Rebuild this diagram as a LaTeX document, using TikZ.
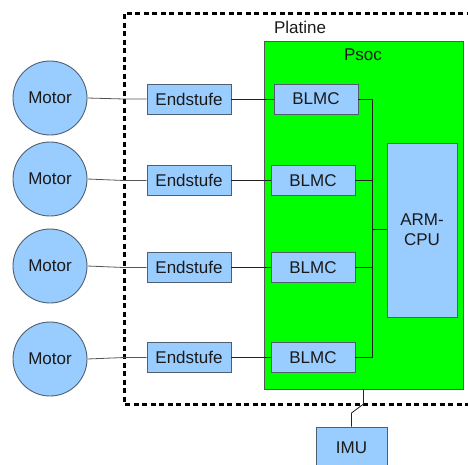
\documentclass[tikz,border=0pt]{standalone}
\usepackage{fontspec}
\setmainfont{Liberation Sans}
\begin{document}
\begin{tikzpicture}[x=1pt,y=-1pt,
  font=\fontsize{17}{20}\selectfont,
  blockfill/.style={fill=boxblue,draw=boxedge,line width=0.9pt,inner sep=0pt,text=textdark},
  block/.style={blockfill,rectangle,minimum width=84pt,minimum height=30pt},
  motor/.style={blockfill,circle,minimum size=74pt},
  wire/.style={draw=wiredark,line width=0.8pt},
  motorwire/.style={draw=wiregray,line width=0.8pt},
  boundary/.style={draw=black,line width=3pt,dash pattern=on 5pt off 3.5pt}]
\definecolor{boxblue}{HTML}{99CCFF}
\definecolor{boxedge}{HTML}{4F5F6F}
\definecolor{psocgreen}{HTML}{00FF00}
\definecolor{psocedge}{HTML}{555555}
\definecolor{textdark}{HTML}{1A1A1A}
\definecolor{wiredark}{HTML}{222222}
\definecolor{wiregray}{HTML}{555555}
\useasboundingbox (0,0) rectangle (468,464);

% board outline and chip
\draw[boundary] (480,13) -- (124,13) -- (124,404) -- (480,404);
\node[text=textdark] (platine) at (300,27) {Platine};
\node[rectangle,fill=psocgreen,draw=psocedge,line width=0.9pt,
      minimum width=199pt,minimum height=348pt,inner sep=0pt] (psoc) at (363.5,215) {};
\node[text=textdark] (psoclabel) at (363,55) {Psoc};

% CPU
\node[blockfill,rectangle,minimum width=70pt,minimum height=174pt,align=center] (cpu) at (422,230) {ARM-\\CPU};

% motor channels
\node[motor] (m1) at (50,98) {Motor};
\node[motor] (m2) at (50,179) {Motor};
\node[motor] (m3) at (50,266) {Motor};
\node[motor] (m4) at (50,359) {Motor};

\node[block] (e1) at (189,99) {Endstufe};
\node[block] (e2) at (189,180.5) {Endstufe};
\node[block] (e3) at (189,267.5) {Endstufe};
\node[block] (e4) at (189,357.5) {Endstufe};

\node[block] (b1) at (316,99) {BLMC};
\node[block] (b2) at (313,180.5) {BLMC};
\node[block] (b3) at (313,267.5) {BLMC};
\node[block] (b4) at (313,357.5) {BLMC};

\foreach \i in {1,...,4}{
  \draw[motorwire] (m\i.east) -- (124,0 |- e\i.west) -- (e\i.west);
  \draw[wire] (e\i.east) -- (b\i.west);
}

% bus to the CPU
\coordinate (bus) at (372,229);
\draw[wire] (b1.east) -| (bus);
\draw[wire] (b2.east) -| (bus);
\draw[wire] (b3.east) -| (bus);
\draw[wire] (b4.east) -| (bus);
\draw[wire] (bus) -- (bus -| cpu.west);

% IMU off board
\node[blockfill,rectangle,minimum width=71pt,minimum height=42pt] (imu) at (351.5,448) {IMU};
\coordinate (imuA) at (363.5,404);
\coordinate (imuB) at (351.5,413);
\draw[wire] (psoc.south) -- (imuA) -- (imuB) -- (imu.north);
\end{tikzpicture}
\end{document}
